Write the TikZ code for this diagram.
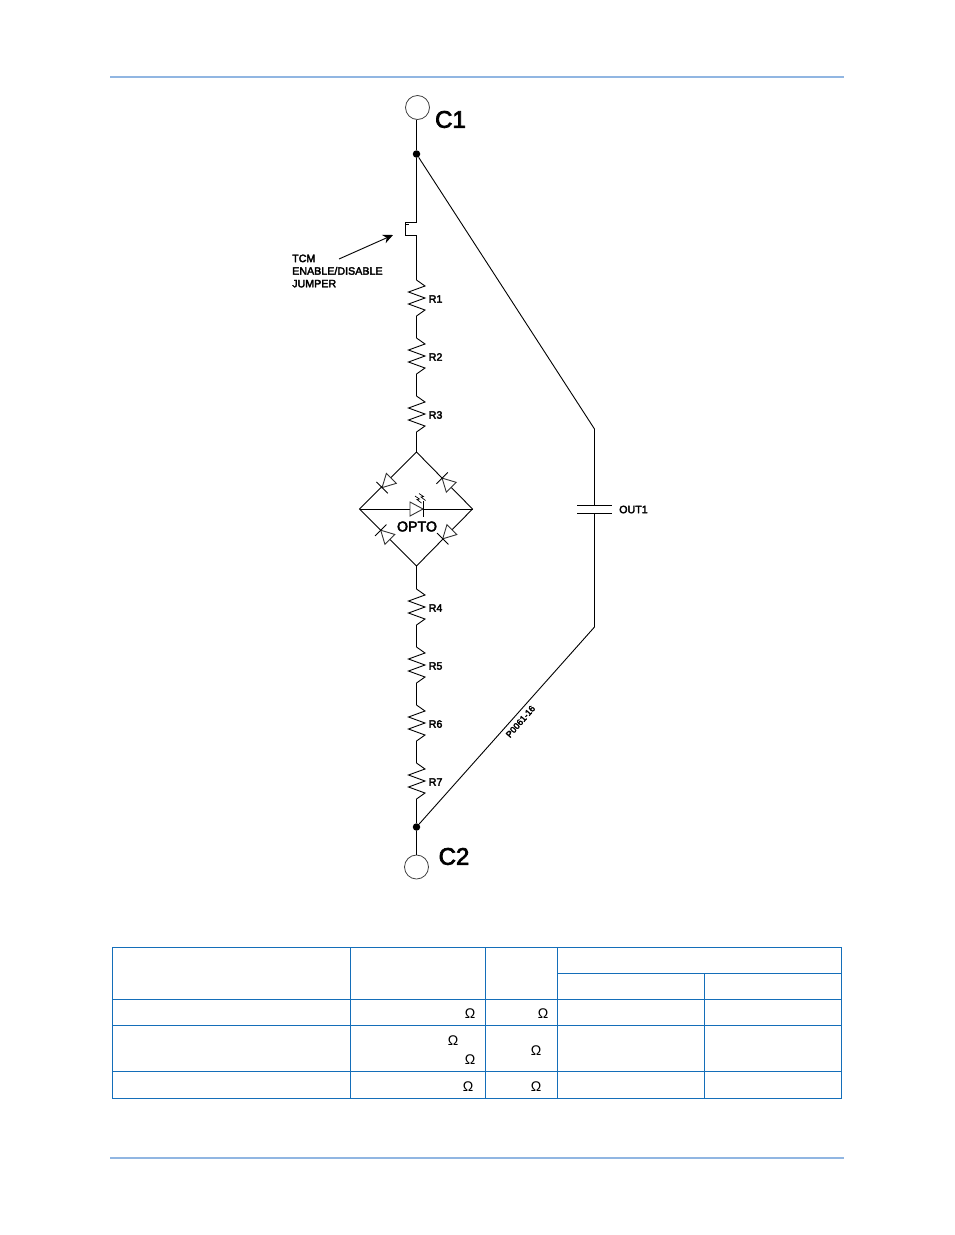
\documentclass[tikz,border=0pt]{standalone}
\usepackage{fontspec}
\setmainfont{Liberation Sans}
\newfontfamily\heavyfont[FakeBold=3]{Liberation Sans}
\usetikzlibrary{arrows.meta}
\definecolor{rulecol}{RGB}{145,182,226}
\definecolor{tablecol}{RGB}{20,110,185}
\tikzset{
  wire/.style={line width=0.9pt},
  lbl/.style={font=\fontsize{10.7}{10.7}\selectfont\heavyfont,inner sep=0pt},
  bigl/.style={font=\fontsize{24}{24}\selectfont\heavyfont,inner sep=0pt},
  dot/.style={circle,fill=black,inner sep=0pt,minimum size=7.5pt},
  term/.style={circle,draw=black!75,line width=0.8pt,inner sep=0pt,minimum size=24pt},
  ohm/.style={font=\fontsize{14}{14}\selectfont,inner sep=0pt},
  tline/.style={tablecol,line width=1.1pt},
  diode/.pic={
    \draw[black!80,line width=0.9pt,fill=white] (-6.5,-7) -- (-6.5,7) -- (6.5,0) -- cycle;
    \draw[wire] (6.5,-8) -- (6.5,8);
  },
  resistor/.pic={
    \draw[wire,line join=miter] (0,0) -- (8.5,6) -- (-8,12) -- (8.5,18) -- (-8,24) -- (8.5,30) -- (0,36);
  }
}
\begin{document}
\begin{tikzpicture}[x=1pt,y=-1pt]
\useasboundingbox (0,0) rectangle (954,1235);
% header and footer
\coordinate (headl) at (110,77);
\coordinate (headr) at (844,77);
\coordinate (footl) at (110,1158);
\coordinate (footr) at (844,1158);
\draw[rulecol,line width=1.8pt] (headl) -- (headr);
\draw[rulecol,line width=1.8pt] (footl) -- (footr);
% terminals
\node[term] (c1) at (417.5,107.5) {};
\node[term] (c2) at (416.5,867) {};
\node[bigl] (c1lbl) at (450.5,119.5) {C1};
\node[bigl] (c2lbl) at (454,856.5) {C2};
\node[dot] (top) at (416.5,154) {};
\node[dot] (bot) at (416.5,827) {};
\draw[wire] (top) -- (top |- c1.south);
\draw[wire] (bot) -- (c2);
% jumper
\coordinate (jtop) at (416.5,222.5);
\coordinate (jtopl) at (405,222.5);
\coordinate (jbotl) at (405,235.5);
\coordinate (jbot) at (416.5,235.5);
\coordinate (jtick) at (409,224.5);
\draw[wire] (top) -- (jtop) -- (jtopl) -- (jbotl) -- (jbot);
\draw[line width=0.7pt] (jtopl |- jtick) -- (jtick);
\node[lbl,anchor=west,align=left] (jlbl) at (292,271) {TCM\\[1.9pt]ENABLE/DISABLE\\[1.9pt]JUMPER};
\coordinate (jarrow) at (339,259);
\coordinate (jtip) at (393,235);
\draw[wire,-{Stealth[length=10pt,width=9pt]}] (jarrow) -- (jtip);
% resistors
\foreach \y/\name in {280/R1,338/R2,396/R3,589/R4,647/R5,705/R6,763/R7}{
  \pic at (416.5,\y) {resistor};
  \coordinate (\name a) at (416.5,\y);
  \coordinate (\name b) at (416.5,\y+36);
  \node[lbl,anchor=west] (\name lbl) at (428.5,\y+19) {\name};
}
\draw[wire] (jbot) -- (R1a);
\draw[wire] (R1b) -- (R2a);
\draw[wire] (R2b) -- (R3a);
\draw[wire] (R4b) -- (R5a);
\draw[wire] (R5b) -- (R6a);
\draw[wire] (R6b) -- (R7a);
% bridge
\coordinate (btop) at (416.5,452);
\coordinate (bleft) at (359.5,509);
\coordinate (bright) at (472.5,509);
\coordinate (bbot) at (416.5,566);
\draw[wire] (R3b) -- (btop);
\draw[wire] (bbot) -- (R4a);
\draw[wire] (R7b) -- (bot);
\draw[wire] (btop) -- (bleft) -- (bbot) -- (bright) -- cycle;
\draw[wire] (bleft) -- (bright);
\pic[rotate=225] at (386.7,483) {diode};
\pic[rotate=135] at (446.7,482.7) {diode};
\pic[rotate=135] at (385.3,534.8) {diode};
\pic[rotate=225] at (447.3,534.2) {diode};
\pic at (416.5,509) {diode};
\draw[line width=0.7pt] (415,496) -- (419.5,499) -- (417,499.5) -- (421.5,503);
\draw[line width=0.7pt] (419,493.5) -- (423.5,496.5) -- (421,497) -- (425.5,500.5);
\node[font=\fontsize{14.2}{14.2}\selectfont\heavyfont,inner sep=0pt] (opto) at (417,526.5) {OPTO};
% output contact
\coordinate (oa) at (594.5,429);
\coordinate (ob) at (594.5,505);
\coordinate (oc) at (594.5,513);
\coordinate (od) at (594.5,627);
\coordinate (pal) at (577,505);
\coordinate (par) at (612,505);
\coordinate (pbl) at (577,513);
\coordinate (pbr) at (612,513);
\draw[wire] (top) -- (oa) -- (ob);
\draw[wire] (oc) -- (od) -- (bot);
\draw[wire] (pal) -- (par);
\draw[wire] (pbl) -- (pbr);
\node[lbl,anchor=west] (outlbl) at (619,509.5) {OUT1};
\node[lbl,rotate=49,font=\fontsize{9}{9}\selectfont\heavyfont] (fig) at (520.5,721.5) {P0061-16};
% table
\draw[tline] (112.5,947.5) rectangle (841.5,1098.5);
\draw[tline] (557.5,973.5) -- (841.5,973.5);
\draw[tline] (112.5,999.5) -- (841.5,999.5);
\draw[tline] (112.5,1025.5) -- (841.5,1025.5);
\draw[tline] (112.5,1071.5) -- (841.5,1071.5);
\foreach \x in {350.5,485.5,557.5}{
  \draw[tline] (\x,947.5) -- (\x,1098.5);
}
\draw[tline] (704.5,973.5) -- (704.5,1098.5);
\node[ohm] (w1) at (470,1013.5) {Ω};
\node[ohm] (w2) at (543,1013.5) {Ω};
\node[ohm] (w3) at (453,1040.5) {Ω};
\node[ohm] (w4) at (470,1059.5) {Ω};
\node[ohm] (w5) at (536,1050.5) {Ω};
\node[ohm] (w6) at (468,1086.5) {Ω};
\node[ohm] (w7) at (536,1086.5) {Ω};
\end{tikzpicture}
\end{document}
